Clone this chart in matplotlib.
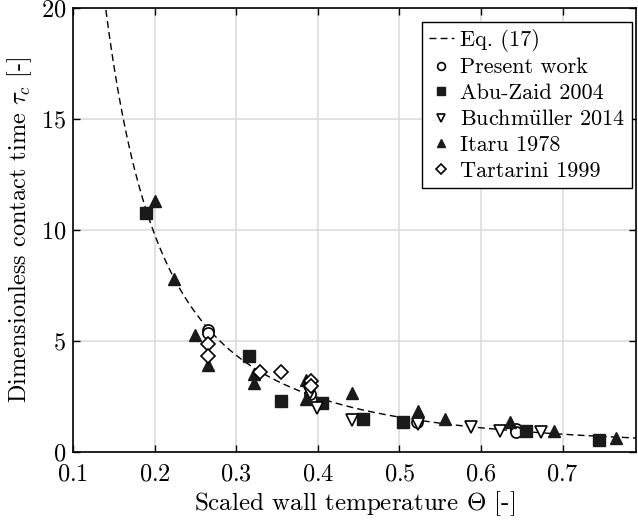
import matplotlib
matplotlib.use("Agg")
import matplotlib.pyplot as plt
import numpy as np

plt.rcParams['font.family'] = 'serif'
plt.rcParams['font.serif'] = ['cmr10']
plt.rcParams['mathtext.fontset'] = 'cm'
plt.rcParams['axes.formatter.use_mathtext'] = True

# Eq. (17): tau_c = C / Theta^2
C17 = 0.392

# measured points (Theta, tau_c)
present_x = [0.266, 0.266, 0.390, 0.521, 0.643, 0.643]
present_y = [5.50, 5.35, 2.60, 1.35, 1.05, 0.90]

abu_x = [0.190, 0.316, 0.355, 0.405, 0.456, 0.505, 0.655, 0.745]
abu_y = [10.75, 4.31, 2.29, 2.20, 1.50, 1.36, 0.96, 0.55]

buch_x = [0.390, 0.399, 0.442, 0.523, 0.588, 0.623, 0.673]
buch_y = [2.65, 2.00, 1.45, 1.25, 1.12, 0.95, 0.90]

itaru_x = [0.200, 0.224, 0.250, 0.266, 0.322, 0.322, 0.385, 0.385,
           0.442, 0.523, 0.556, 0.635, 0.689, 0.765]
itaru_y = [11.30, 7.80, 5.25, 3.90, 3.50, 3.10, 3.25, 2.40,
           2.65, 1.85, 1.50, 1.33, 0.94, 0.65]

tart_x = [0.266, 0.266, 0.329, 0.355, 0.392, 0.392]
tart_y = [4.85, 4.30, 3.60, 3.60, 3.20, 2.95]

fig = plt.figure(figsize=(6.38, 5.28), dpi=100)
ax = fig.add_axes([0.1144, 0.144, 0.8825, 0.841])

th = np.linspace(0.12, 0.79, 400)
ax.plot(th, C17 / th**2, 'k--', lw=1.0, dashes=(5, 3), label='Eq. (17)')

ms = 8
ax.plot(present_x, present_y, 'o', ms=ms, mfc='white', mec='k', mew=1.2,
        label='Present work')
ax.plot(abu_x, abu_y, 's', ms=ms, mfc='#1a1a1a', mec='#1a1a1a',
        label='Abu-Zaid 2004')
ax.plot(buch_x, buch_y, 'v', ms=ms + 0.5, mfc='white', mec='k', mew=1.2,
        label=r'Buchm$\ddot{\mathrm{u}}$ller 2014')
ax.plot(itaru_x, itaru_y, '^', ms=ms + 0.5, mfc='#1a1a1a', mec='#1a1a1a',
        label='Itaru 1978')
ax.plot(tart_x, tart_y, 'D', ms=ms - 0.5, mfc='white', mec='k', mew=1.2,
        label='Tartarini 1999')

ax.set_xlim(0.1, 0.79)
ax.set_ylim(0, 20)
ax.set_xticks([0.1, 0.2, 0.3, 0.4, 0.5, 0.6, 0.7])
ax.set_yticks([0, 5, 10, 15, 20])
ax.grid(True, color='#dcdcdc', lw=1.2)
ax.set_axisbelow(True)
ax.tick_params(direction='in', top=True, right=True, labelsize=17.5,
               length=5, width=1)
ax.tick_params(axis='x', pad=8)
ax.tick_params(axis='y', pad=5)
for s in ax.spines.values():
    s.set_linewidth(1.2)

ax.set_xlabel(r'Scaled wall temperature $\Theta$ [-]', fontsize=18,
              labelpad=3)
ax.set_ylabel(r'Dimensionless contact time $\tau_c$ [-]', fontsize=17.5,
              labelpad=5)

leg = ax.legend(loc='upper right', bbox_to_anchor=(632 / 638, 1 - 22 / 528),
                bbox_transform=fig.transFigure, borderaxespad=0,
                fontsize=16, frameon=True, fancybox=False,
                edgecolor='k', framealpha=1, handlelength=1.1,
                handletextpad=0.3, borderpad=0.3, labelspacing=0.28,
                markerscale=0.7)
leg.get_frame().set_linewidth(1.0)

fig.savefig('out.png', dpi=100)
